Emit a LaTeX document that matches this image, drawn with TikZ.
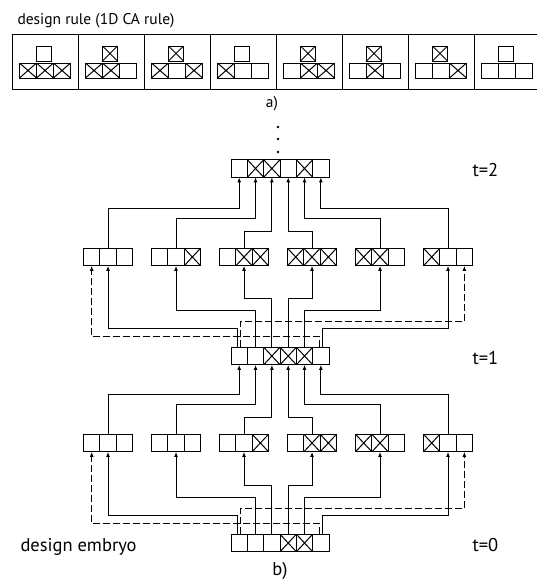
\documentclass[tikz,border=0pt]{standalone}
\usepackage{fontspec}
\setmainfont{PT Sans}
\usetikzlibrary{arrows.meta,positioning,calc}
\tikzset{cell/.style={draw,minimum width=16.33pt,minimum height=17.5pt,inner sep=0pt,outer sep=0pt},crossed/.style={path picture={\draw (path picture bounding box.north west)--(path picture bounding box.south east) (path picture bounding box.north east)--(path picture bounding box.south west);}},st/.code={\ifnum#1=1\relax\tikzset{crossed}\fi},rulebox/.style={draw,minimum width=66pt,minimum height=55pt,inner sep=0pt,outer sep=0pt},lbl/.style={inner sep=0pt},big/.style={lbl,font=\fontsize{18.5}{20}\selectfont},link/.style={draw,-{Latex[length=5pt,width=3.8pt]}},wrap/.style={link,dash pattern=on 7pt off 3pt},every picture/.style={line width=1pt}}
% one row of cells, named #1 0,1,2,...
\newcommand{\carow}[4]{\foreach \s [count=\i from 0] in {#4} \node[cell,st=\s] (#1\i) at ({#2+16.33*\i},#3) {};}

\begin{document}
\begin{tikzpicture}[x=1pt,y=-1pt,font=\fontsize{15.5}{17}\selectfont]
\useasboundingbox (0,0) rectangle (536,581);
% a) the rule table: neighbourhood below, next state on top.
\node[lbl,anchor=base west] (title) at (17,24) {design rule (1D CA rule)};
\foreach \o/\a/\b/\c [count=\k from 0] in {0/1/1/1,1/1/1/0,1/1/0/1,0/1/0/0,1/0/1/1,1/0/1/0,1/0/0/1,0/0/0/0}{
  \node[rulebox] (rule\k) at ({45+66*\k},61.5) {};
  \node[cell,minimum width=15pt,minimum height=15pt,st=\o] (rule\k-top) at ({44+66*\k},53.5) {};
  \node[cell,minimum width=17pt,minimum height=15pt,st=\a] (rule\k-0) at ({28+66*\k},70.5) {};
  \node[cell,minimum width=17pt,minimum height=15pt,st=\b] (rule\k-1) at ({45+66*\k},70.5) {};
  \node[cell,minimum width=17pt,minimum height=15pt,st=\c] (rule\k-2) at ({62+66*\k},70.5) {};
}
\node[lbl] (capa) at (272,104) {a)};
% b) generations t=0,1,2
\foreach \y in {127,139,152} \fill (278,\y) circle (1.3pt);
\carow{r2-}{239.2}{168.5}{0,1,1,0,1,0}
\carow{r1-}{239.2}{356}{0,0,1,1,1,0}
\carow{r0-}{239.2}{543}{0,0,0,1,1,0}
\node[big,anchor=base west] (t2) at (472,176) {t=2};
\node[big,anchor=base west] (t1) at (472,364) {t=1};
\node[big,anchor=base west] (t0) at (472,551) {t=0};
\node[big,anchor=base west] (embryo) at (20,551) {design embryo};
% neighbourhoods read from t=1
\carow{p0-}{91.7}{257}{0,0,0}
\carow{p1-}{159.7}{257}{0,0,1}
\carow{p2-}{227.7}{257}{0,1,1}
\carow{p3-}{295.7}{257}{1,1,1}
\carow{p4-}{363.7}{257}{1,1,0}
\carow{p5-}{431.7}{257}{1,0,0}
% neighbourhoods read from t=0
\carow{q0-}{91.7}{443}{0,0,0}
\carow{q1-}{159.7}{443}{0,0,0}
\carow{q2-}{227.7}{443}{0,0,1}
\carow{q3-}{295.7}{443}{0,1,1}
\carow{q4-}{363.7}{443}{1,1,0}
\carow{q5-}{431.7}{443}{1,0,0}
% rule applied: neighbourhood -> next state
\foreach \k/\h in {0/40,1/30,2/17,3/17,4/30,5/40}{
  \draw[link] (p\k-1.north) -- ++(0,-\h) -| (r2-\k.south);
  \draw[link] (q\k-1.north) -- ++(0,-\h) -| (r1-\k.south);
}
% each cell to the middle of its neighbourhood
\foreach \k/\h in {1/37,2/49,3/49,4/37}{
  \draw[link] (r1-\k.north) -- ++(0,-\h) -| (p\k-1.south);
  \draw[link] (r0-\k.north) -- ++(0,-\h) -| (q\k-1.south);
}
\draw[link] ([xshift=-2pt]r1-0.north) -- ++(0,-19) -| (p0-1.south);
\draw[link] ([xshift=2pt]r1-5.north) -- ++(0,-19) -| (p5-1.south);
\draw[link] ([xshift=-2pt]r0-0.north) -- ++(0,-19) -| (q0-1.south);
\draw[link] ([xshift=2pt]r0-5.north) -- ++(0,-19) -| (q5-1.south);
% periodic boundary, dashed
\draw[wrap] ([xshift=1.5pt]r1-0.north) -- ++(0,-26) -| (p5-2.south);
\draw[wrap] ([xshift=-1.5pt]r1-5.north) -- ++(0,-11) -| (p0-0.south);
\draw[wrap] ([xshift=1.5pt]r0-0.north) -- ++(0,-26) -| (q5-2.south);
\draw[wrap] ([xshift=-1.5pt]r0-5.north) -- ++(0,-11) -| (q0-0.south);
\node[big] (capb) at (280,571) {b)};
\end{tikzpicture}
\end{document}
